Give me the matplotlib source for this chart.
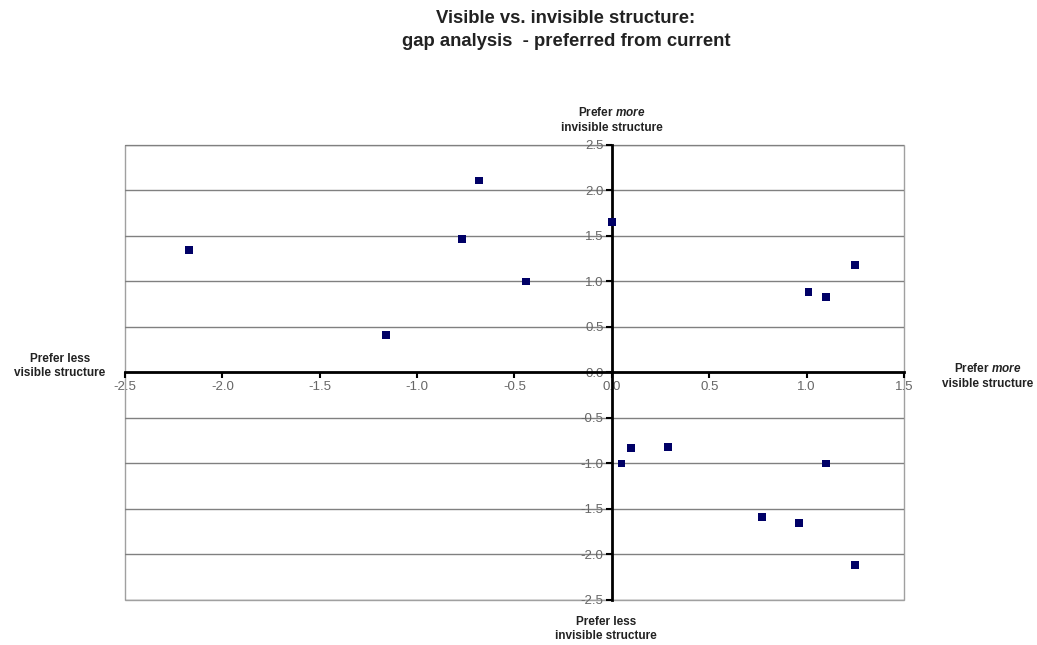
"""Visible vs. invisible structure の gap analysis 散布図を作る。"""

import matplotlib

matplotlib.use("Agg")
import matplotlib.pyplot as plt
from matplotlib.patches import Rectangle

# 散布図の点 (visible gap, invisible gap)
VISIBLE_GAP = [-2.17, -1.16, -0.77, -0.68, -0.44, 0.0, 1.01, 1.10, 1.25,
               0.05, 0.10, 0.29, 1.10, 0.77, 0.96, 1.25]
INVISIBLE_GAP = [1.35, 0.41, 1.47, 2.11, 1.00, 1.65, 0.88, 0.83, 1.18,
                 -1.00, -0.83, -0.82, -1.00, -1.59, -1.65, -2.12]

X_TICKS = [-2.5, -2.0, -1.5, -1.0, -0.5, 0.0, 0.5, 1.0, 1.5]
Y_TICKS = [-2.5, -2.0, -1.5, -1.0, -0.5, 0.0, 0.5, 1.0, 1.5, 2.0, 2.5]

TITLE = "Visible vs. invisible structure:\ngap analysis  - preferred from current"

plt.rcParams["font.family"] = ["Liberation Sans", "DejaVu Sans"]
plt.rcParams["mathtext.fontset"] = "custom"
plt.rcParams["mathtext.rm"] = "Liberation Sans:bold"
plt.rcParams["mathtext.it"] = "Liberation Sans:bold:italic"


def main() -> None:
    fig = plt.figure(figsize=(10.37, 6.45), dpi=100)
    ax = fig.add_axes([0.1205, 0.0698, 0.7512, 0.7054])

    ax.set_xlim(X_TICKS[0], X_TICKS[-1])
    ax.set_ylim(Y_TICKS[0], Y_TICKS[-1])

    # 横方向のグリッド
    for y in Y_TICKS:
        ax.axhline(y, color="#808080", linewidth=1.0, zorder=1)

    ax.scatter(VISIBLE_GAP, INVISIBLE_GAP, marker="s", s=32, color="#000066",
               edgecolors="none", zorder=4)

    # 軸は原点で交差させる
    for side in ("top", "right"):
        ax.spines[side].set_visible(False)
    ax.spines["left"].set_position(("data", 0))
    ax.spines["bottom"].set_position(("data", 0))
    ax.spines["left"].set_linewidth(2.0)
    ax.spines["bottom"].set_linewidth(2.0)
    ax.spines["left"].set_zorder(3)
    ax.spines["bottom"].set_zorder(3)

    ax.add_patch(Rectangle((0, 0), 1, 1, transform=ax.transAxes, fill=False,
                           edgecolor="#a0a0a0", linewidth=1.0, clip_on=False,
                           zorder=0))

    ax.set_xticks(X_TICKS)
    ax.set_yticks(Y_TICKS)
    ax.set_xticklabels([f"{v:.1f}" for v in X_TICKS])
    ax.set_yticklabels([f"{v:.1f}" for v in Y_TICKS])
    ax.tick_params(direction="out", length=4, width=1.5, color="black",
                   labelsize=9.5, labelcolor="#666666", pad=2)

    label_kw = dict(fontsize=8.5, fontweight="bold", ha="center", va="center",
                    color="#222222", linespacing=1.25)
    fig.text(612 / 1037, 1 - 120 / 645,
             "Prefer $\\mathit{more}$\ninvisible structure", **label_kw)
    fig.text(606 / 1037, 1 - 629 / 645,
             "Prefer less\ninvisible structure", **label_kw)
    fig.text(60 / 1037, 1 - 366 / 645,
             "Prefer less\nvisible structure", **label_kw)
    fig.text(988 / 1037, 1 - 376 / 645,
             "Prefer $\\mathit{more}$\nvisible structure", **label_kw)

    fig.text(566 / 1037, 1 - 30 / 645, TITLE, fontsize=13.3,
             fontweight="bold", ha="center", va="center", color="#222222",
             linespacing=1.4)

    fig.savefig("out.png", dpi=100)
    plt.close(fig)


if __name__ == "__main__":
    main()
